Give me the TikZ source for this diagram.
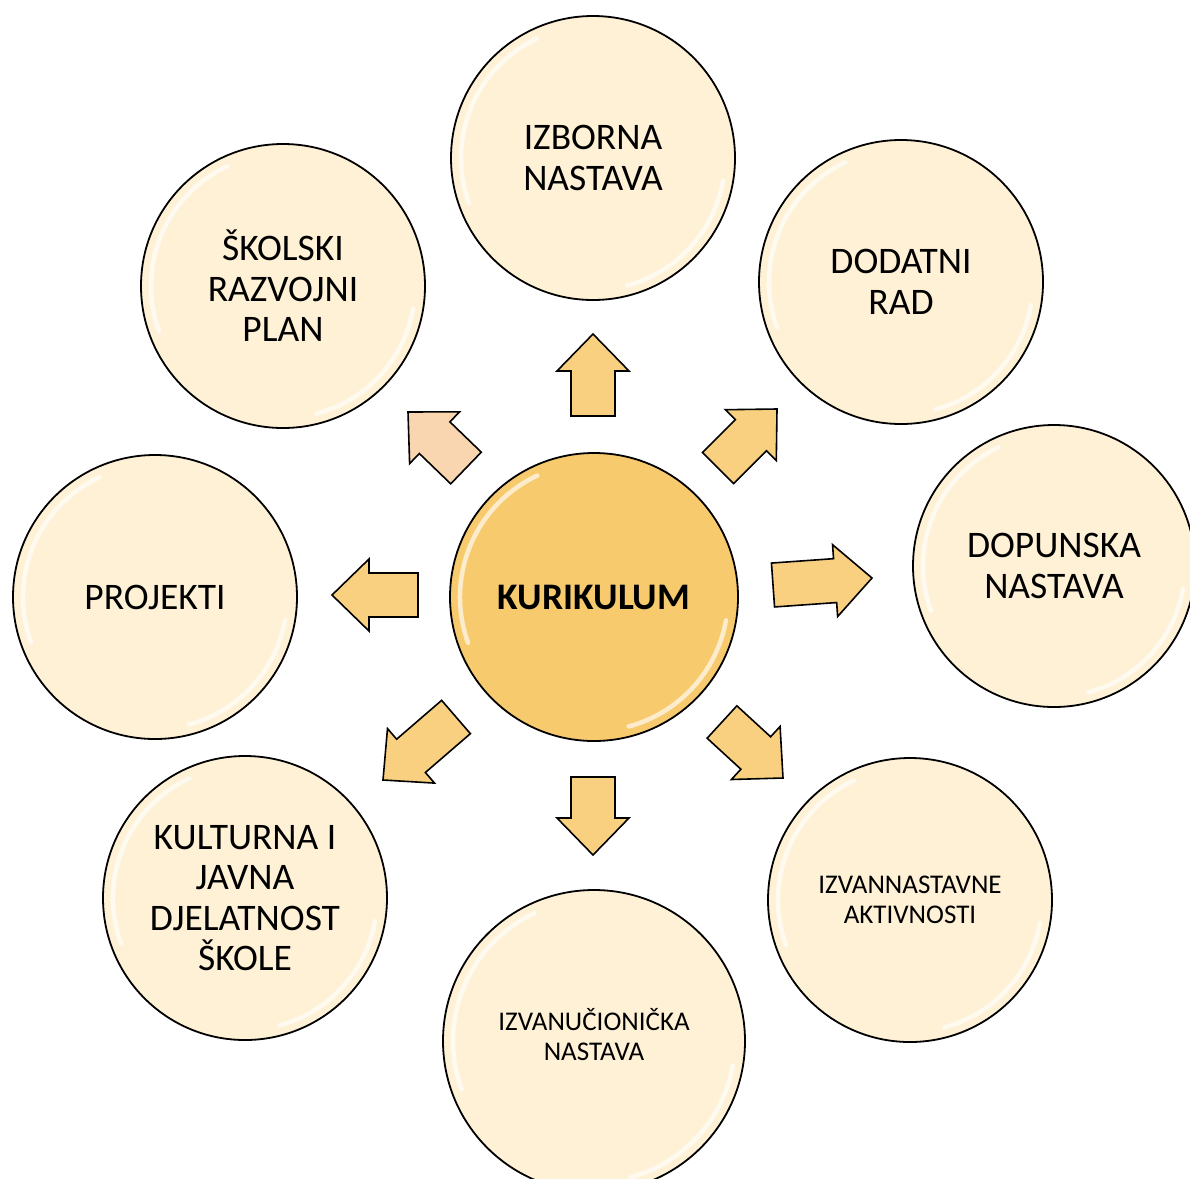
\documentclass[tikz,border=0pt]{standalone}
\usepackage{fontspec}
\setmainfont{Carlito}
\usetikzlibrary{calc}
\definecolor{cream}{RGB}{254,241,214}
\definecolor{core}{RGB}{248,202,110}
\definecolor{arrowcol}{RGB}{249,208,128}
\definecolor{peach}{RGB}{249,214,176}
\tikzset{
  outer/.style={circle, draw=black, line width=1.8pt, fill=cream, inner sep=0pt, align=center,
    font=\fontsize{37.5}{40.5}\selectfont},
  outersmall/.style={outer, font=\fontsize{27}{30}\selectfont},
  smalltext/.style={inner sep=0pt, align=center, font=\fontsize{27}{30}\selectfont},
  core/.style={circle, draw=black, line width=1.8pt, fill=core, inner sep=0pt, align=center,
    font=\bfseries\fontsize{37.5}{40}\selectfont},
  blockarrow/.style={draw=black, line width=1.6pt, line join=miter, fill=arrowcol},
  peacharrow/.style={blockarrow, fill=peach},
  gloss/.style={white, line width=4.5pt, opacity=.65, line cap=round}
}
\newcommand\fatarrow[3]{%
  \coordinate (hb) at ($(#3)!37pt!(#2)$);
  \draw[#1] ($(#2)!22pt!90:(#3)$) -- ($(hb)!22pt!-90:(#2)$) -- ($(hb)!36pt!-90:(#2)$) -- (#3)
    -- ($(hb)!36pt!90:(#2)$) -- ($(hb)!22pt!90:(#2)$) -- ($(#2)!22pt!-90:(#3)$) -- cycle;
}
\newcommand\glossy[2]{%
  \draw[gloss] ($(#1)+(115:#2)$) arc[start angle=115, end angle=200, radius=#2];
  \draw[gloss] ($(#1)+(285:#2)$) arc[start angle=285, end angle=350, radius=#2];
}
\begin{document}
\begin{tikzpicture}[x=1pt, y=-1pt]
\useasboundingbox (0,0) rectangle (1190,1178);
\clip (0,0) rectangle (1190,1178);
\fill[white] (0,0) rectangle (1190,1178);

% circles
\node[core, minimum size=288pt] (kur) at (594,597) {KURIKULUM};
\node[outer, minimum size=284pt] (izb) at (593,158) {IZBORNA\\NASTAVA};
\node[outer, minimum size=284pt] (dod) at (901,282) {DODATNI\\RAD};
\node[outer, minimum size=282pt] (dop) at (1054,566) {DOPUNSKA\\NASTAVA};
\node[outersmall, minimum size=284pt] (izvan) at (910,900) {IZVANNASTAVNE\\AKTIVNOSTI};
\node[outersmall, minimum size=302pt] (izvu) at (594,1041) {};
\node[smalltext] (izvut) at (594,1035) {IZVANUČIONIČKA\\NASTAVA};
\node[outer, minimum size=284pt] (kult) at (245,898) {KULTURNA I\\JAVNA\\DJELATNOST\\ŠKOLE};
\node[outer, minimum size=284pt] (proj) at (155,597) {PROJEKTI};
\node[outer, minimum size=284pt] (skol) at (283,286) {ŠKOLSKI\\RAZVOJNI\\PLAN};

\glossy{kur}{134pt}
\glossy{izb}{132pt}
\glossy{dod}{132pt}
\glossy{dop}{131pt}
\glossy{izvan}{132pt}
\glossy{izvu}{141pt}
\glossy{kult}{132pt}
\glossy{proj}{132pt}
\glossy{skol}{132pt}

% arrow end points
\coordinate (t1) at (593,416); \coordinate (p1) at (593,334);
\coordinate (t2) at (718,468); \coordinate (p2) at (777,409);
\coordinate (t3) at (773,585); \coordinate (p3) at (872,578);
\coordinate (t4) at (722,722); \coordinate (p4) at (783,778);
\coordinate (t5) at (593,777); \coordinate (p5) at (593,855);
\coordinate (t6) at (456,717); \coordinate (p6) at (383,780);
\coordinate (t7) at (418,595); \coordinate (p7) at (332,595);
\coordinate (t8) at (466,468); \coordinate (p8) at (408,412);

\fatarrow{blockarrow}{t1}{p1}
\fatarrow{blockarrow}{t2}{p2}
\fatarrow{blockarrow}{t3}{p3}
\fatarrow{blockarrow}{t4}{p4}
\fatarrow{blockarrow}{t5}{p5}
\fatarrow{blockarrow}{t6}{p6}
\fatarrow{blockarrow}{t7}{p7}
\fatarrow{peacharrow}{t8}{p8}
\end{tikzpicture}
\end{document}
